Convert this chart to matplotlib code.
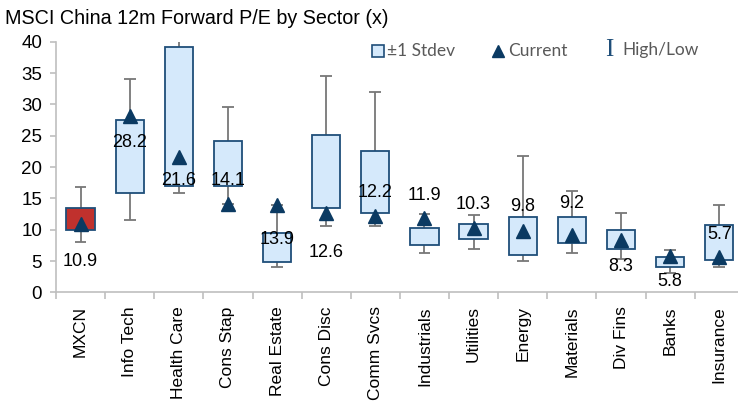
import matplotlib
matplotlib.use("Agg")
import matplotlib.pyplot as plt
import numpy as np

plt.rcParams['font.family'] = ['Liberation Sans', 'DejaVu Sans']

# data
sectors = ["MXCN", "Info Tech", "Health Care", "Cons Stap", "Real Estate", "Cons Disc",
           "Comm Svcs", "Industrials", "Utilities", "Energy", "Materials", "Div Fins",
           "Banks", "Insurance"]
high = [16.9, 34.1, 41.5, 29.6, 13.9, 34.6, 32.0, 12.5, 12.4, 21.8, 16.2, 12.6, 6.7, 13.9]
sd_upper = [13.5, 27.5, 39.1, 24.2, 9.5, 25.1, 22.6, 10.3, 11.0, 12.1, 12.1, 10.0, 5.6, 10.7]
sd_lower = [9.9, 15.8, 17.0, 17.0, 4.8, 13.5, 12.6, 7.6, 8.6, 6.0, 7.9, 6.9, 4.0, 5.2]
low = [8.1, 11.5, 15.8, 14.1, 4.1, 10.6, 10.6, 6.3, 6.9, 5.0, 6.3, 5.4, 3.1, 4.0]
current = [10.9, 28.2, 21.6, 14.1, 13.9, 12.6, 12.2, 11.9, 10.3, 9.8, 9.2, 8.3, 5.8, 5.7]
# where each data label sits (y, in chart units)
label_y = [4.9, 24.0, 17.8, 17.8, 8.4, 6.3, 15.9, 15.5, 14.1, 13.7, 14.2, 4.1, 1.7, 9.2]

box_fill = "#D5E9FB"
box_edge = "#1F4E79"
mxcn_fill = "#C0312D"
navy = "#0B3A62"
whisk = "#777777"

fig = plt.figure(figsize=(7.38, 4.01), dpi=100)
ax = fig.add_axes([0.0759, 0.2706, 0.932, 0.6254])

x = np.arange(len(sectors))
ax.vlines(x, low, high, color=whisk, lw=1.3, zorder=1)
ax.hlines(low, x - 0.12, x + 0.12, color=whisk, lw=1.3, zorder=1)
ax.hlines(high, x - 0.12, x + 0.12, color=whisk, lw=1.3, zorder=1)

fills = [mxcn_fill] + [box_fill] * (len(sectors) - 1)
heights = [u - l for u, l in zip(sd_upper, sd_lower)]
ax.bar(x, heights, bottom=sd_lower, width=0.575, color=fills, edgecolor=box_edge,
       linewidth=1.3, zorder=2)
ax.plot(x, current, linestyle="none", marker="^", markersize=10.5, color=navy, zorder=3)

for xi, v, ly in zip(x, current, label_y):
    ax.text(xi, ly, f"{v:.1f}", ha="center", va="center", fontsize=13, color="black", zorder=4)

ax.set_xlim(-0.5, len(sectors) - 0.5)
ax.set_ylim(0, 40)
ax.set_yticks(range(0, 41, 5))
ax.set_xticks(x)
ax.set_xticklabels(sectors, rotation=90, fontsize=12.5)
ax.set_xticks(np.arange(-0.5, len(sectors)), minor=True)
ax.tick_params(axis="x", which="major", length=0, pad=10)
ax.tick_params(axis="x", which="minor", length=5, color="#BFBFBF", width=1.2)
ax.tick_params(axis="y", labelsize=13.5, length=4, color="#BFBFBF", width=1.2, pad=6)
for s in ["top", "right"]:
    ax.spines[s].set_visible(False)
for s in ["left", "bottom"]:
    ax.spines[s].set_color("#BFBFBF")
    ax.spines[s].set_linewidth(1.2)

fig.text(0.007, 0.955, "MSCI China 12m Forward P/E by Sector (x)", fontsize=14.2, va="center", ha="left")

# legend
leg_y = 1 - 50.5 / 401
legc = "#595959"
lf = ["Lato", "DejaVu Sans"]
fig.lines.append(plt.Line2D([378 / 738], [leg_y], marker="s", markersize=8.5, markerfacecolor=box_fill,
                            markeredgecolor=box_edge, markeredgewidth=1.2, linestyle="none",
                            transform=fig.transFigure))
fig.text(387 / 738, leg_y, "±1 Stdev", fontsize=12.5, color=legc, va="center", family=lf)
fig.lines.append(plt.Line2D([498 / 738], [leg_y], marker="^", markersize=9, color=navy,
                            linestyle="none", transform=fig.transFigure))
fig.text(508 / 738, leg_y, "Current", fontsize=12.5, color=legc, va="center", family=lf)
fig.text(609 / 738, leg_y, "I", fontsize=18, color=box_edge, va="center", ha="center",
         family=["Liberation Serif", "DejaVu Serif"])
fig.text(622 / 738, leg_y, "High/Low", fontsize=12.5, color=legc, va="center", family=lf)

fig.savefig("out.png", dpi=100)
